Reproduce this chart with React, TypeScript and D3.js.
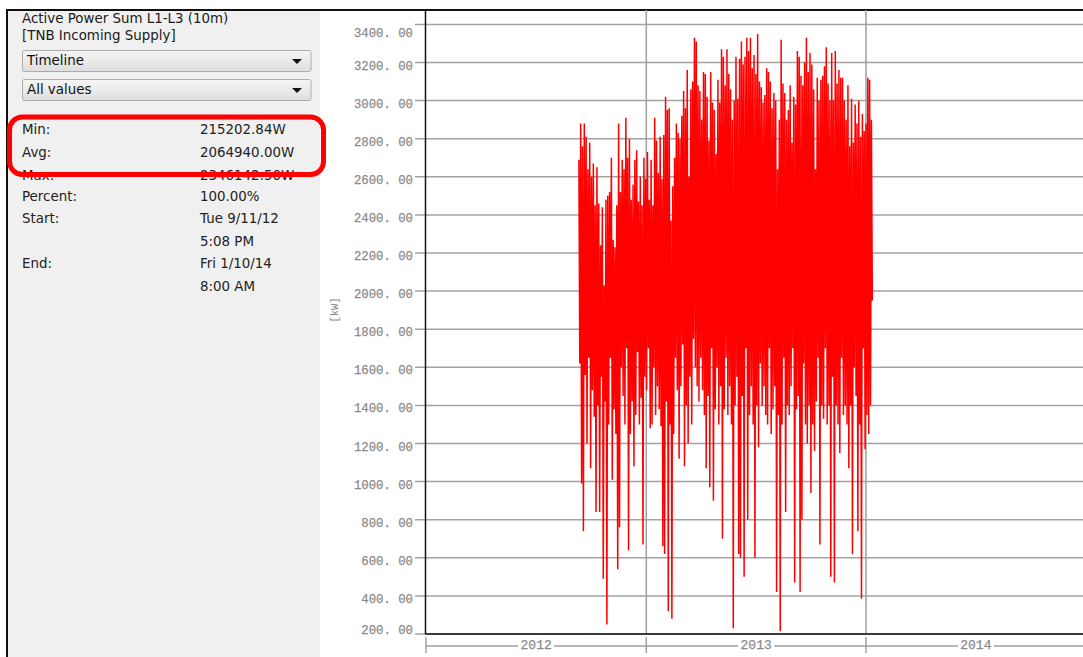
import React from 'react';
import * as d3 from 'd3';

// left panel texts
const titleLines = ['Active Power Sum L1-L3 (10m)', '[TNB Incoming Supply]'];
const dropdowns = ['Timeline', 'All values'];
const statLabels = ['Min:', 'Avg:', 'Max:', 'Percent:', 'Start:', '', 'End:', ''];
const statValues = ['215202.84W', '2064940.00W', '2346142.50W', '100.00%', 'Tue 9/11/12', '5:08 PM', 'Fri 1/10/14', '8:00 AM'];

// axes
const yTicks = [200, 400, 600, 800, 1000, 1200, 1400, 1600, 1800, 2000, 2200, 2400, 2600, 2800, 3000, 3200, 3400];
const years = [2012, 2013, 2014];

// samples every 3 days from Tue 9/11/12: peak and low of the 10m values (kW)
const sampleStart = new Date(2012, 8, 11);
const sampleHigh = [
  2690, 2880, 2760, 2880, 2810, 2640, 2780, 2600, 2670, 2450,
  2650, 2460, 2240, 2440, 2030, 2480, 2500, 2520, 2700, 2270,
  2230, 2450, 2880, 2520, 2690, 2640, 2910, 2700, 2800, 2480,
  2560, 2690, 2740, 2470, 2600, 2450, 2700, 2590, 2730, 2480,
  2690, 2450, 2910, 2790, 2620, 2810, 2590, 2820, 3020, 2950,
  2960, 2370, 2550, 2700, 2880, 2830, 2800, 2920, 3050, 2960,
  3160, 2600, 3060, 3100, 3330, 3310, 3080, 3050, 2900, 3150,
  3140, 3020, 2790, 3150, 2990, 2950, 2720, 3110, 2990, 3270,
  3230, 3080, 3270, 3140, 3060, 2900, 3000, 3230, 3010, 3220,
  3310, 3190, 3230, 3330, 3260, 3330, 3170, 3240, 3140, 3350,
  3100, 3070, 2990, 3030, 3170, 3150, 3100, 2960, 3040, 3000,
  2640, 2900, 3320, 3090, 3040, 2900, 2950, 3080, 2780, 3020,
  2980, 3260, 3230, 3130, 3080, 3200, 3330, 3150, 3250, 3190,
  3060, 2640, 3120, 3000, 3110, 3130, 3180, 3280, 3090, 3000,
  3250, 3000, 3260, 3090, 3160, 3120, 3120, 3000, 2900, 3080,
  2760, 3010, 2780, 2980, 2880, 3000, 2810, 2930, 2840, 2880,
  3120, 3110, 2900,
];
const sampleLow = [
  1620, 990, 740, 1560, 1200, 1650, 1070, 1480, 1340, 840,
  1400, 840, 1550, 490, 1420, 250, 1300, 1650, 1010, 1380,
  1250, 540, 760, 1600, 1450, 1300, 1700, 640, 1250, 1420,
  1080, 1350, 1680, 1300, 1440, 670, 1550, 1480, 1700, 1280,
  1300, 1600, 1350, 1500, 1380, 1290, 660, 620, 1420, 320,
  1300, 280, 1250, 1650, 1480, 1120, 1500, 1720, 1080, 1400,
  1200, 1550, 1300, 1750, 1600, 1500, 1420, 1650, 1480, 1350,
  1070, 1450, 970, 1700, 900, 1380, 1600, 1300, 1500, 700,
  1380, 1650, 1350, 1500, 1300, 230, 1400, 1550, 620, 600,
  1450, 500, 1700, 800, 1350, 1500, 1300, 600, 1400, 1180,
  1620, 1400, 1500, 1350, 1300, 1700, 1250, 1380, 1500, 420,
  1350, 215, 1300, 1650, 840, 1400, 1350, 1500, 1700, 470,
  1380, 1450, 420, 800, 1620, 1300, 1200, 1400, 940, 1300,
  1160, 1420, 1650, 670, 1400, 1330, 1700, 1300, 1400, 500,
  1550, 470, 1400, 1300, 1150, 1650, 1350, 1400, 1300, 1070,
  1400, 620, 1600, 1450, 740, 1300, 385, 1700, 1170, 1350,
  1250, 1400, 1950,
];

const W = 1083;
const H = 657;
const plot = { left: 425.5, top: 10, bottom: 634, right: W };

const uiFont = '"DejaVu Sans", Verdana, sans-serif';
const monoFont = '"Liberation Mono", "DejaVu Sans Mono", monospace';

export default function App() {
  const x = d3.scaleTime()
    .domain([new Date(2012, 0, 1), new Date(2014, 0, 1)])
    .range([426, 866]);
  const y = d3.scaleLinear().domain([200, 3400]).range([634, 24.4]);

  // zigzag through peak then low of each sample
  const pts: [number, number][] = [];
  sampleHigh.forEach((hi, i) => {
    const t = d3.timeDay.offset(sampleStart, 3 * i);
    pts.push([x(t), y(hi)]);
    pts.push([x(d3.timeHour.offset(t, 36)), y(sampleLow[i])]);
  });
  const line = d3.line();

  const fmt = d3.format('.2f');

  return (
    <div style={{ position: 'fixed', left: 0, top: 0, width: W, height: H, background: '#fff' }}>
      <svg width={W} height={H} style={{ display: 'block' }}>
        <defs>
          <clipPath id="plotClip">
            <rect x={plot.left} y={plot.top} width={plot.right - plot.left} height={plot.bottom - plot.top} />
          </clipPath>
          <linearGradient id="ddGrad" x1="0" y1="0" x2="0" y2="1">
            <stop offset="0" stopColor="#f6f6f6" />
            <stop offset="1" stopColor="#dedede" />
          </linearGradient>
        </defs>

        {/* left panel */}
        <rect x={8} y={10} width={312} height={H - 10} fill="#f0f0f0" />
        <line x1={7} x2={7} y1={9} y2={H} stroke="#111" strokeWidth={2} />
        <line x1={6} x2={W} y1={10} y2={10} stroke="#111" strokeWidth={2} />

        {titleLines.map((t, i) => (
          <text key={t} x={22} y={23 + i * 17} fontFamily={uiFont} fontSize={13.4} fill="#1a1a1a">{t}</text>
        ))}

        {dropdowns.map((d, i) => (
          <g key={d} transform={`translate(0, ${50 + i * 29})`}>
            <rect x={22.5} y={0.5} width={288.5} height={21} rx={2} fill="url(#ddGrad)" stroke="#acacac" />
            <text x={27} y={15} fontFamily={uiFont} fontSize={13.4} fill="#111">{d}</text>
            <path d="M292,9 h10 l-5,5 z" fill="#111" />
          </g>
        ))}

        {statLabels.map((l, i) => {
          const by = [134, 157, 180, 201, 223, 246, 268, 291][i];
          return (
            <g key={i}>
              {l && <text x={22} y={by} fontFamily={uiFont} fontSize={13.4} fill="#222">{l}</text>}
              <text x={200} y={by} fontFamily={uiFont} fontSize={13.4} fill="#222">{statValues[i]}</text>
            </g>
          );
        })}

        {/* highlight box */}
        <rect x={9.5} y={117} width={314} height={57.5} rx={13} fill="none" stroke="#ff0000" strokeWidth={5} />

        {/* grid */}
        {yTicks.map(v => (
          <g key={v}>
            <line x1={415} x2={W} y1={y(v)} y2={y(v)} stroke="#a3a3a3" strokeWidth={1.5} />
            <text
              x={413}
              y={Math.min(634, Math.max(37, y(v) + 7))}
              textAnchor="end"
              fontFamily={monoFont}
              fontSize={12.3}
              fill="#8a8a8a"
              stroke="#8a8a8a"
              strokeWidth={0.25}
            >{fmt(v).replace('.', '. ')}</text>
          </g>
        ))}
        {years.slice(1).map(yr => (
          <line key={yr} x1={x(new Date(yr, 0, 1))} x2={x(new Date(yr, 0, 1))} y1={plot.top} y2={plot.bottom}
            stroke="#a0a0a0" strokeWidth={1.5} />
        ))}

        {/* data */}
        <g clipPath="url(#plotClip)">
          <path d={line(pts) || ''} fill="none" stroke="#ff0000" strokeWidth={1.5} strokeLinejoin="miter" />
        </g>

        {/* plot frame */}
        <line x1={plot.left} x2={plot.left} y1={plot.top} y2={plot.bottom} stroke="#111" strokeWidth={1.5} />
        <line x1={plot.left} x2={W} y1={plot.bottom} y2={plot.bottom} stroke="#111" strokeWidth={1.5} />

        {/* y unit */}
        <text transform="translate(338, 310) rotate(-90)" textAnchor="middle" fontFamily={monoFont} fontSize={10.5} fill="#8a8a8a">[kW]</text>

        {/* time axis */}
        <line x1={426} x2={W} y1={646} y2={646} stroke="#a0a0a0" strokeWidth={1.5} />
        {years.map(yr => {
          const x0 = x(new Date(yr, 0, 1));
          const xm = (x0 + x(new Date(yr + 1, 0, 1))) / 2;
          return (
            <g key={yr}>
              <line x1={x0} x2={x0} y1={637} y2={653} stroke="#a0a0a0" strokeWidth={1.5} />
              <rect x={xm - 18} y={640} width={36} height={10} fill="#fff" />
              <text x={xm} y={649} textAnchor="middle" fontFamily={monoFont} fontSize={13} fill="#8a8a8a"
                stroke="#8a8a8a" strokeWidth={0.25}>{yr}</text>
            </g>
          );
        })}
      </svg>
    </div>
  );
}
